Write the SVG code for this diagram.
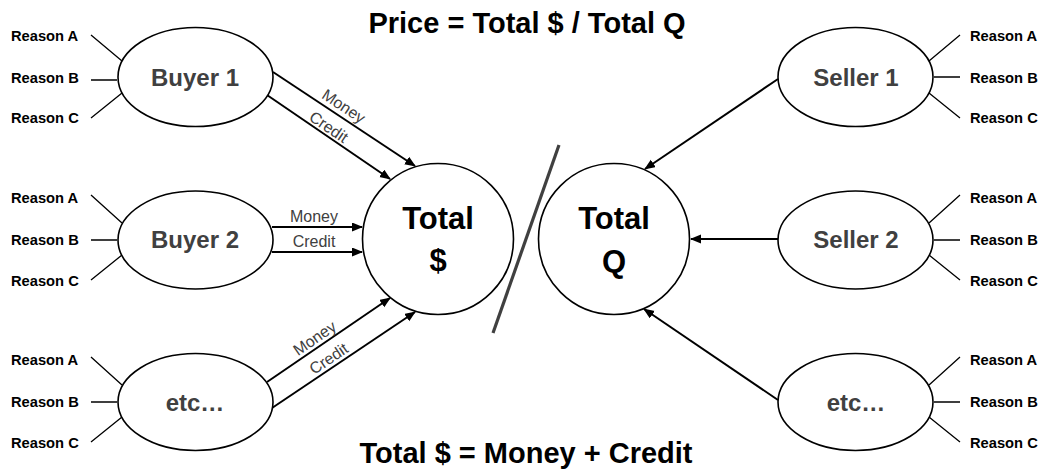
<svg xmlns="http://www.w3.org/2000/svg" width="1043" height="471" viewBox="0 0 1043 471">
<defs>
<style>
.bg{fill:#ffffff}
.ell{fill:#ffffff;stroke:#000000;stroke-width:1.6}
.rl{stroke:#000000;stroke-width:1.3;fill:none}
.rs{font-family:"Liberation Sans",Arial,sans-serif;font-weight:bold;font-size:14.7px;fill:#000000}
.nl{font-family:"Liberation Sans",Arial,sans-serif;font-weight:bold;font-size:24px;fill:#404040;text-anchor:middle}
.tl{font-family:"Liberation Sans",Arial,sans-serif;font-weight:bold;font-size:31px;fill:#000000;text-anchor:middle}
.title{font-family:"Liberation Sans",Arial,sans-serif;font-weight:bold;font-size:29px;fill:#000000;text-anchor:middle}
.al{stroke:#000000;stroke-width:2;fill:none;marker-end:url(#ah)}
.lb{font-family:"Liberation Sans",Arial,sans-serif;font-size:16px;fill:#404040;text-anchor:middle}
</style>
<marker id="ah" markerUnits="userSpaceOnUse" markerWidth="12" markerHeight="10" refX="10" refY="4.5" orient="auto">
<path d="M0,0 L11,4.5 L0,9 z" fill="#000000"/>
</marker>
</defs>
<rect class="bg" x="0" y="0" width="1043" height="471"/>

<text class="title" x="527" y="33">Price = Total $ / Total Q</text>
<text class="title" x="526" y="463">Total $ = Money + Credit</text>

<g id="connectors">
<path class="al" d="M273,72 L415,166"/>
<path class="al" d="M267,95 L390,179"/>
<path class="al" d="M272,227 L362,227"/>
<path class="al" d="M272,252 L362,252"/>
<path class="al" d="M267,382 L390,298"/>
<path class="al" d="M272,408 L415,312"/>
<path class="al" d="M778,79 L645,169"/>
<path class="al" d="M778,239 L691,239"/>
<path class="al" d="M778,400 L644,309"/>
<g transform="translate(338,115) rotate(33.5)"><text class="lb" x="0" y="-5">Money</text></g>
<g transform="translate(324,134) rotate(34.3)"><text class="lb" x="0" y="-3">Credit</text></g>
<text class="lb" x="314" y="222">Money</text>
<text class="lb" x="314" y="247">Credit</text>
<g transform="translate(320,346) rotate(-34.3)"><text class="lb" x="0" y="-4">Money</text></g>
<g transform="translate(334,366.5) rotate(-33.9)"><text class="lb" x="0" y="-4">Credit</text></g>
</g>

<line x1="493" y1="333" x2="559" y2="145" stroke="#404040" stroke-width="3.2"/>

<g id="buyer1">
<path class="rl" d="M91,35 L122,61 M91,80 L117,80 M91,118 L122,93"/>
<text class="rs" x="11" y="41">Reason A</text>
<text class="rs" x="11" y="83">Reason B</text>
<text class="rs" x="11" y="123">Reason C</text>
<ellipse class="ell" cx="195.5" cy="77" rx="77.5" ry="49.5"/>
<text class="nl" x="195" y="86">Buyer 1</text>
</g>

<g id="buyer2">
<path class="rl" d="M91,195 L122,223 M91,240 L117,240 M91,280 L122,255"/>
<text class="rs" x="11" y="203">Reason A</text>
<text class="rs" x="11" y="245">Reason B</text>
<text class="rs" x="11" y="286">Reason C</text>
<ellipse class="ell" cx="195.5" cy="240" rx="77.5" ry="49"/>
<text class="nl" x="195" y="248">Buyer 2</text>
</g>

<g id="buyer3">
<path class="rl" d="M91,357 L122,385 M91,402 L117,402 M91,442 L122,417"/>
<text class="rs" x="11" y="365">Reason A</text>
<text class="rs" x="11" y="407">Reason B</text>
<text class="rs" x="11" y="448">Reason C</text>
<ellipse class="ell" cx="195.5" cy="402" rx="77.5" ry="48.5"/>
<text class="nl" x="195" y="411">etc…</text>
</g>

<g id="totaldollar">
<circle class="ell" cx="438" cy="239" r="75.5"/>
<text class="tl" x="438" y="229">Total</text>
<text class="tl" x="438" y="271">$</text>
</g>

<g id="totalq">
<circle class="ell" cx="614" cy="239" r="75.5"/>
<text class="tl" x="614" y="229">Total</text>
<text class="tl" x="614" y="272">Q</text>
</g>

<g id="seller1">
<path class="rl" d="M960,35 L929,61 M960,77 L934,77 M960,118 L929,93"/>
<text class="rs" x="970" y="41">Reason A</text>
<text class="rs" x="970" y="83">Reason B</text>
<text class="rs" x="970" y="123">Reason C</text>
<ellipse class="ell" cx="855.5" cy="77" rx="77.5" ry="49.5"/>
<text class="nl" x="856" y="86">Seller 1</text>
</g>

<g id="seller2">
<path class="rl" d="M960,195 L929,223 M960,240 L934,240 M960,280 L929,255"/>
<text class="rs" x="970" y="203">Reason A</text>
<text class="rs" x="970" y="245">Reason B</text>
<text class="rs" x="970" y="286">Reason C</text>
<ellipse class="ell" cx="855.5" cy="240" rx="77.5" ry="49"/>
<text class="nl" x="856" y="248">Seller 2</text>
</g>

<g id="seller3">
<path class="rl" d="M960,357 L929,385 M960,402 L934,402 M960,442 L929,417"/>
<text class="rs" x="970" y="365">Reason A</text>
<text class="rs" x="970" y="407">Reason B</text>
<text class="rs" x="970" y="448">Reason C</text>
<ellipse class="ell" cx="855.5" cy="402" rx="77.5" ry="48.5"/>
<text class="nl" x="856" y="411">etc…</text>
</g>
</svg>
